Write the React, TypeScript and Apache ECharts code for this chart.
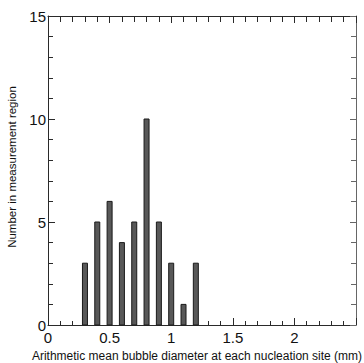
import React, { useEffect, useRef } from "react";
import * as echarts from "echarts";

const diameters = [0.3, 0.4, 0.5, 0.6, 0.7, 0.8, 0.9, 1.0, 1.1, 1.2];
const counts = [3, 5, 6, 4, 5, 10, 5, 3, 1, 3];
const xTitle = "Arithmetic mean bubble diameter at each nucleation site (mm)";
const yTitle = "Number in measurement region";

export default function App() {
  const ref = useRef<HTMLDivElement>(null);
  useEffect(() => {
    if (!ref.current) return;
    const chart = echarts.init(ref.current, null, { renderer: "svg" });
    const font = "Liberation Sans, Arial, sans-serif";
    const lineColor = "#2a2a2a";
    const mk = (color: string, len: number, minLen: number) => ({
      axisLine: { show: true, onZero: false, lineStyle: { color, width: 1 } },
      axisTick: { show: true, inside: true, length: len, lineStyle: { color, width: 1 } },
      minorTick: { show: true, splitNumber: 5, length: minLen, lineStyle: { color, width: 1 } },
      splitLine: { show: false },
    });
    chart.setOption({
      animation: false,
      grid: { left: 48, right: 8, top: 16, bottom: 38, outerBoundsMode: "none", containLabel: false },
      xAxis: [
        {
          type: "value",
          min: 0,
          max: 2.5,
          interval: 0.5,
          ...mk(lineColor, 7, 4),
          axisLabel: {
            color: "#111",
            fontSize: 15,
            fontFamily: font,
            margin: 5,
            showMaxLabel: false,
          },
          name: xTitle,
          nameLocation: "middle",
          nameGap: 24,
          nameTextStyle: { color: "#111", fontSize: 12, fontFamily: font, padding: [0, 10, 0, 0] },
        },
        {
          type: "value",
          position: "top",
          min: 0,
          max: 2.5,
          interval: 0.5,
          ...mk(lineColor, 7, 6),
          axisLabel: { show: false },
        },
      ],
      yAxis: [
        {
          type: "value",
          min: 0,
          max: 15,
          interval: 5,
          ...mk(lineColor, 7, 5),
          axisLabel: {
            color: "#111",
            fontSize: 15,
            fontFamily: font,
            margin: 2,
          },
          name: yTitle,
          nameLocation: "middle",
          nameGap: 23,
          nameTextStyle: { color: "#111", fontSize: 11.5, fontFamily: font, padding: [0, 0, 0, 7] },
        },
        {
          type: "value",
          position: "right",
          min: 0,
          max: 15,
          interval: 5,
          ...mk("#666", 6, 5),
          axisLabel: { show: false },
        },
      ],
      series: [
        {
          type: "custom",
          xAxisIndex: 0,
          yAxisIndex: 0,
          data: diameters.map((d, i) => [d, counts[i]]),
          encode: { x: 0, y: 1 },
          renderItem: (params: any, api: any) => {
            const x = api.value(0);
            const y = api.value(1);
            const top = api.coord([x, y]);
            const base = api.coord([x, 0]);
            const w = 5;
            return {
              type: "rect",
              shape: { x: top[0] - w / 2, y: top[1], width: w, height: base[1] - top[1] },
              style: { fill: "#585858", stroke: "#1a1a1a", lineWidth: 1 },
            };
          },
        },
      ],
    });
    return () => chart.dispose();
  }, []);
  return <div ref={ref} style={{ width: 364, height: 363, position: "absolute", left: 0, top: 0 }} />;
}
